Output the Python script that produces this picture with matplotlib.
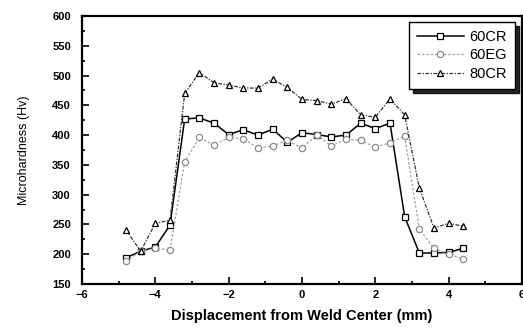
import numpy as np
import matplotlib
matplotlib.use("Agg")
import matplotlib.pyplot as plt
from matplotlib.ticker import MultipleLocator

plt.rcParams['font.family'] = ['Liberation Sans', 'DejaVu Sans']

# Measurement positions (mm from weld center)
x_pos = [-4.8, -4.4, -4.0, -3.6, -3.2, -2.8, -2.4, -2.0, -1.6, -1.2, -0.8, -0.4,
         0.0, 0.4, 0.8, 1.2, 1.6, 2.0, 2.4, 2.8, 3.2, 3.6, 4.0, 4.4]

# Hardness values (Hv)
hv_60cr = [194, 205, 212, 249, 427, 429, 420, 401, 409, 400, 410, 388,
           404, 401, 397, 400, 420, 411, 420, 263, 202, 202, 203, 210]
hv_60eg = [188, 205, 210, 207, 355, 396, 383, 396, 394, 378, 382, 391,
           378, 400, 382, 393, 391, 380, 387, 398, 242, 210, 200, 192]
hv_80cr = [241, 205, 252, 257, 470, 505, 488, 484, 479, 479, 494, 480,
           460, 458, 452, 461, 434, 430, 461, 434, 311, 244, 252, 247]

fig = plt.figure(figsize=(5.23, 3.32), dpi=100)
ax = fig.add_axes([82 / 523, 48 / 332, 440 / 523, 268 / 332])

ax.plot(x_pos, hv_60cr, color='black', lw=1.1, ls='-', marker='s', ms=4.5,
        mfc='white', mec='black', mew=0.9, label='60CR')
ax.plot(x_pos, hv_60eg, color='#a0a0a0', lw=0.9, ls=(0, (2, 1.5)), marker='o', ms=4.5,
        mfc='white', mec='#8a8a8a', mew=0.9, label='60EG')
ax.plot(x_pos, hv_80cr, color='#333333', lw=0.9, ls=(0, (3, 1.2, 1, 1.2)), marker='^', ms=5,
        mfc='white', mec='black', mew=0.9, label='80CR')

ax.set_xlim(-6, 6)
ax.set_ylim(150, 600)
ax.xaxis.set_major_locator(MultipleLocator(2))
ax.xaxis.set_minor_locator(MultipleLocator(1))
ax.yaxis.set_major_locator(MultipleLocator(50))
ax.yaxis.set_minor_locator(MultipleLocator(25))
ax.tick_params(which='both', direction='in', top=False, right=False, width=1.2)
ax.tick_params(which='major', length=5, labelsize=8, pad=4)
ax.tick_params(axis='y', which='major', pad=8)
ax.tick_params(which='minor', length=2.5)
for lab in ax.get_xticklabels() + ax.get_yticklabels():
    lab.set_fontweight('bold')
for sp in ax.spines.values():
    sp.set_linewidth(1.6)

ax.set_xlabel('Displacement from Weld Center (mm)', fontsize=10.5, fontweight='bold', labelpad=7)
ax.set_ylabel('Microhardness (Hv)', fontsize=9, labelpad=16)

leg = ax.legend(loc='upper right', bbox_to_anchor=(0.984, 0.978), borderaxespad=0,
                fontsize=10.5, handlelength=3.2, handletextpad=0.4, borderpad=0.55,
                labelspacing=0.3, fancybox=False, framealpha=1, edgecolor='black',
                shadow={'ox': 3, 'oy': -3, 'color': 'black', 'alpha': 0.85})
leg.get_frame().set_linewidth(1.0)

fig.savefig('out.png', dpi=100)
